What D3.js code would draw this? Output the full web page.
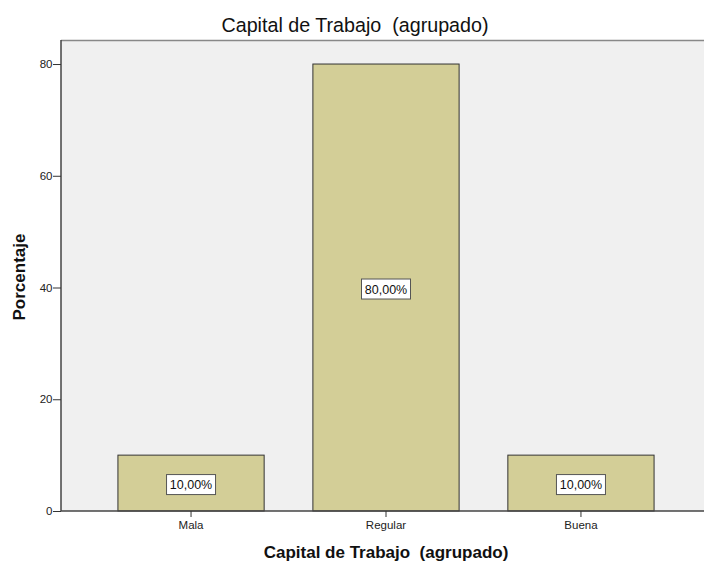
<!DOCTYPE html>
<html>
<head>
<meta charset="utf-8">
<script src="https://cdn.jsdelivr.net/npm/d3@7"></script>
<style>
  body { margin: 0; background: #fff; }
  svg { display: block; font-family: Arial, "Liberation Sans", sans-serif; }
  .tick text { font-size: 11.5px; fill: #222; }
</style>
</head>
<body>
<div class="container"></div>
<script>
const w = 704
const h = 562

const categories = ["Mala", "Regular", "Buena"]
const percents = [10, 80, 10]
const yTicks = [0, 20, 40, 60, 80]

const plot = { left: 61, top: 40, bottom: 511, right: 711 }

const svg = d3.select(".container")
              .append("svg")
              .attr("width", w)
              .attr("height", h)

const xScale = d3.scaleBand()
                 .domain(categories)
                 .range([plot.left, plot.right])
                 .paddingInner(0.25)
                 .paddingOuter(0.292)

const yScale = d3.scaleLinear()
                 .domain([0, 84.3])
                 .range([plot.bottom, plot.top])

// plot background
svg.append("rect")
   .attr("x", plot.left)
   .attr("y", plot.top)
   .attr("width", w - plot.left)
   .attr("height", plot.bottom - plot.top)
   .attr("fill", "#f0f0f0")

svg.append("line")
   .attr("x1", plot.left).attr("x2", w)
   .attr("y1", plot.top + 0.5).attr("y2", plot.top + 0.5)
   .attr("stroke", "#888")
   .attr("stroke-width", 1.5)

// bars
svg.selectAll("rect.bar")
   .data(percents)
   .enter()
   .append("rect")
     .attr("class", "bar")
     .attr("x", (d, i) => xScale(categories[i]))
     .attr("y", d => yScale(d))
     .attr("width", xScale.bandwidth())
     .attr("height", d => yScale(0) - yScale(d))
     .attr("fill", "#d3ce97")
     .attr("stroke", "#333")
     .attr("stroke-width", 1)

// value labels
const labels = svg.selectAll("g.lbl")
   .data(percents)
   .enter()
   .append("g")
     .attr("class", "lbl")
     .attr("transform", (d, i) => `translate(${xScale(categories[i]) + xScale.bandwidth() / 2}, ${yScale(d / 2) + 1.5})`)

labels.append("rect")
      .attr("x", -24.5)
      .attr("y", -10)
      .attr("width", 49)
      .attr("height", 20)
      .attr("fill", "#fff")
      .attr("stroke", "#555")

labels.append("text")
      .text(d => d3.format(".2f")(d).replace(".", ",") + "%")
      .attr("text-anchor", "middle")
      .attr("dy", "0.36em")
      .attr("font-size", "12.5px")
      .attr("fill", "#111")

// axes
const xAxis = d3.axisBottom(xScale)
                .tickSize(6)
                .tickSizeOuter(0)

const yAxis = d3.axisLeft(yScale)
                .tickValues(yTicks)
                .tickSize(8)
                .tickSizeOuter(0)

const gx = svg.append("g")
   .attr("transform", `translate(0, ${plot.bottom})`)
   .call(xAxis)
gx.select(".domain").attr("d", `M${plot.left},0H${w}`).attr("stroke", "#444").attr("stroke-width", 1.5)
gx.selectAll(".tick line").attr("stroke", "#333")
gx.selectAll(".tick text").attr("y", 10)

const gy = svg.append("g")
   .attr("transform", `translate(${plot.left}, 0)`)
   .call(yAxis)
gy.select(".domain").attr("d", `M0,${plot.top}V${plot.bottom}`).attr("stroke", "#444").attr("stroke-width", 1.5)
gy.selectAll(".tick line").attr("stroke", "#333")
gy.selectAll(".tick text").attr("x", -8.5)

// titles
svg.append("text")
   .text("Capital de Trabajo  (agrupado)")
   .attr("x", 355)
   .attr("y", 32)
   .attr("text-anchor", "middle")
   .attr("font-size", "19.7px")
   .attr("fill", "#111")
   .style("white-space", "pre")

svg.append("text")
   .text("Capital de Trabajo  (agrupado)")
   .attr("x", 386)
   .attr("y", 558)
   .attr("text-anchor", "middle")
   .attr("font-size", "17px")
   .attr("font-weight", "bold")
   .attr("fill", "#111")
   .style("white-space", "pre")

svg.append("text")
   .text("Porcentaje")
   .attr("transform", "translate(25, 277) rotate(-90)")
   .attr("text-anchor", "middle")
   .attr("font-size", "17px")
   .attr("font-weight", "bold")
   .attr("fill", "#111")
</script>
</body>
</html>
